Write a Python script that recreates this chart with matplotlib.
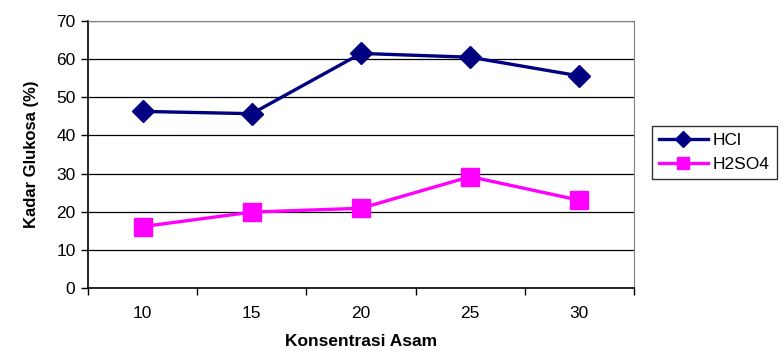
import matplotlib
matplotlib.use("Agg")
from matplotlib import pyplot as plt
import numpy as np

# data
categories = ["10", "15", "20", "25", "30"]
hcl = [46.3, 45.7, 61.5, 60.5, 55.6]
h2so4 = [16.1, 19.9, 20.9, 29.2, 23.0]
yticks = [0, 10, 20, 30, 40, 50, 60, 70]

plt.rcParams['font.family'] = ['Liberation Sans', 'DejaVu Sans']

fig = plt.figure(figsize=(7.83, 3.51), dpi=100)
ax = fig.add_axes([88/783, 1 - 288/351, (634-88)/783, (288-21)/351])

x = np.arange(1, len(categories) + 1)
ax.plot(x, hcl, color='#000080', lw=2.4, marker='D', markersize=11, label='HCl')
ax.plot(x, h2so4, color='#FF00FF', lw=2.4, marker='s', markersize=13, label='H2SO4')

ax.set_xlim(0.5, len(categories) + 0.5)
ax.set_ylim(0, 70)
ax.set_yticks(yticks)
ax.yaxis.grid(True, color='black', lw=0.9)
ax.set_axisbelow(True)

# category axis: ticks on boundaries, labels in the middle
ax.set_xticks(np.arange(0.5, len(categories) + 1, 1))
ax.set_xticklabels([])
ax.set_xticks(x, minor=True)
ax.set_xticklabels(categories, minor=True)
ax.tick_params(axis='x', which='minor', length=0, pad=13, labelsize=12.5)
ax.tick_params(axis='x', which='major', length=5, direction='out', width=1)
ax.tick_params(axis='y', length=5, direction='out', width=1, labelsize=12.5, pad=4)

for s in ['top', 'right']:
    ax.spines[s].set_color('#808080')
for s in ['left', 'bottom']:
    ax.spines[s].set_color('black')
    ax.spines[s].set_linewidth(1.2)

ax.set_xlabel('Konsentrasi Asam', fontsize=12.5, fontweight='bold', labelpad=9)
ax.set_ylabel('Kadar Glukosa (%)', fontsize=12, fontweight='bold', labelpad=12)

leg = ax.legend(loc='upper left', bbox_to_anchor=(652/783, 1 - 126/351), bbox_transform=fig.transFigure,
                borderaxespad=0, frameon=True, fancybox=False, edgecolor='black', fontsize=12.5,
                handlelength=2.8, borderpad=0.4, labelspacing=0.5, handletextpad=0.3)
leg.get_frame().set_linewidth(1.0)
for h in leg.get_lines():
    h.set_markersize(8)

fig.savefig('out.png', dpi=100)
